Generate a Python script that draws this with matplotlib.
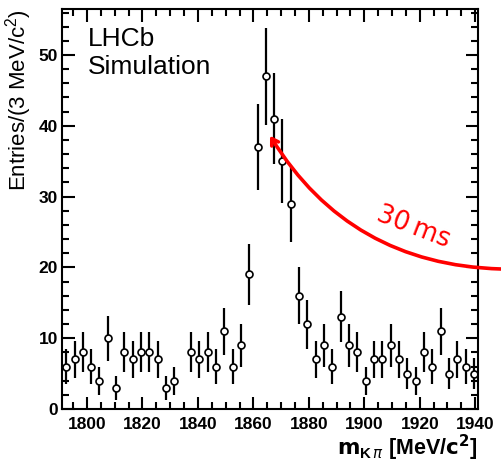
import numpy as np
import matplotlib.pyplot as plt
from matplotlib.ticker import MultipleLocator

# bin edges 1791..1941, 3 MeV bins
bin_lo = 1791
bin_w = 3
counts = [6, 7, 8, 6, 4, 10, 3, 8, 7, 8,
          8, 7, 3, 4, 0, 8, 7, 8, 6, 11,
          6, 9, 19, 37, 47, 41, 35, 29, 16, 12,
          7, 9, 6, 13, 9, 8, 4, 7, 7, 9,
          7, 5, 4, 8, 6, 11, 5, 7, 6, 5]
x_ticks = [1800, 1820, 1840, 1860, 1880, 1900, 1920, 1940]
y_ticks = [0, 10, 20, 30, 40, 50]
arrow_label = '30\u2009ms'

counts = np.array(counts, dtype=float)
centers = bin_lo + bin_w * (np.arange(len(counts)) + 0.5)
errs = np.sqrt(counts)
keep = counts > 0

fig = plt.figure(figsize=(5.01, 4.63), dpi=100)
ax = fig.add_axes([0.1238, 0.1166, 0.8303, 0.864])

ax.errorbar(centers[keep], counts[keep], yerr=errs[keep], fmt='o', color='black',
            mfc='white', mec='black', ms=5, mew=1.2, elinewidth=1.6, capsize=0)

ax.set_xlim(bin_lo, bin_lo + bin_w * len(counts))
ax.set_ylim(0, 56.5)
ax.set_xticks(x_ticks)
ax.set_yticks(y_ticks)
ax.xaxis.set_minor_locator(MultipleLocator(5))
ax.yaxis.set_minor_locator(MultipleLocator(2))
ax.tick_params(which='both', direction='in', top=True, right=True, width=1.5)
ax.tick_params(which='major', length=9, labelsize=12.5, pad=3)
ax.tick_params(which='minor', length=5)
ax.tick_params(axis='x', which='major', pad=6)
for lbl in ax.get_xticklabels() + ax.get_yticklabels():
    lbl.set_fontfamily('Liberation Sans')
    lbl.set_fontweight('bold')
for sp in ax.spines.values():
    sp.set_linewidth(1.5)

ax.set_ylabel(r'Entries/(3 MeV/$\mathregular{c^2}$)', fontsize=16, family='Liberation Sans',
              loc='top', labelpad=3)
ax.set_xlabel(r'$\mathbf{m}_{\mathregular{K}\,\pi}$ [MeV/$\mathbf{c^2}$]', fontsize=15.5,
              family='Liberation Sans', fontweight='bold', loc='right', labelpad=0)

ax.text(0.062, 0.955, 'LHCb\nSimulation', transform=ax.transAxes, fontsize=19,
        family='Liberation Sans', va='top', ha='left', linespacing=1.2)

ax.annotate('', xy=(1866, 38.6), xycoords='data',
            xytext=(501, 194), textcoords='figure pixels',
            arrowprops=dict(arrowstyle='->,head_length=0.45,head_width=0.28',
                            color='red', lw=2.6, shrinkA=0, shrinkB=0,
                            connectionstyle='arc3,rad=-0.27'),
            annotation_clip=False)
ax.text(413, 463 - 227, arrow_label, transform=None, color='red', fontsize=18.5,
        rotation=-21, ha='center', va='center', rotation_mode='anchor')

fig.savefig('out.png', dpi=100)
